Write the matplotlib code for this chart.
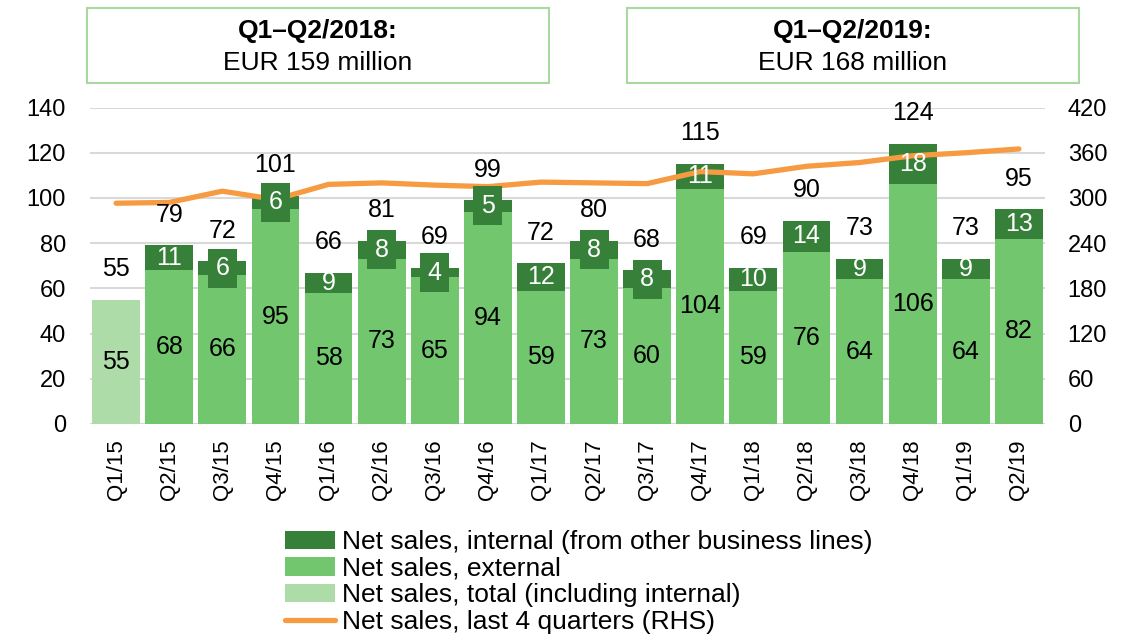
import numpy as np
import matplotlib
matplotlib.use("Agg")
import matplotlib.pyplot as plt
from matplotlib.patches import Rectangle

plt.rcParams['font.family'] = ['Liberation Sans', 'DejaVu Sans']

quarters = ["Q1/15", "Q2/15", "Q3/15", "Q4/15", "Q1/16", "Q2/16", "Q3/16", "Q4/16", "Q1/17",
            "Q2/17", "Q3/17", "Q4/17", "Q1/18", "Q2/18", "Q3/18", "Q4/18", "Q1/19", "Q2/19"]
# first quarter only has the total (light bar)
external = [None, 68, 66, 95, 58, 73, 65, 94, 59, 73, 60, 104, 59, 76, 64, 106, 64, 82]
internal = [None, 11, 6, 6, 9, 8, 4, 5, 12, 8, 8, 11, 10, 14, 9, 18, 9, 13]
totals = [55, 79, 72, 101, 66, 81, 69, 99, 72, 80, 68, 115, 69, 90, 73, 124, 73, 95]
last4q = [293, 294, 309, 298, 318, 320, 317, 315, 321, 320, 319, 335, 332, 342, 347, 356, 360, 365]

box_titles = ["Q1\u2013Q2/2018:", "Q1\u2013Q2/2019:"]
box_values = ["EUR 159 million", "EUR 168 million"]

c_int = '#37803A'
c_ext = '#72C66E'
c_tot = '#AEDCA8'
c_line = '#F79B42'
c_grid = '#D9D9D9'

fig = plt.figure(figsize=(11.35, 6.37), dpi=100)
ax = fig.add_axes([0.0789, 0.3344, 0.8422, 0.4968])
ax2 = ax.twinx()

x = np.arange(len(quarters))
ext = np.array([np.nan if v is None else v for v in external], dtype=float)
intl = np.array([np.nan if v is None else v for v in internal], dtype=float)
w = 0.9

b_tot = ax.bar(x[0], totals[0], w, color=c_tot, zorder=2)
b_ext = ax.bar(x[1:], ext[1:], w, color=c_ext, zorder=2)
b_int = ax.bar(x[1:], intl[1:], w, bottom=ext[1:], color=c_int, zorder=2)

ln, = ax2.plot(x, last4q, color=c_line, lw=3.8, solid_capstyle='round', zorder=2)

ax.set_xlim(-0.5, len(quarters) - 0.5)
ax.set_ylim(0, 140)
ax.set_yticks(range(0, 141, 20))
ax2.set_ylim(0, 420)
ax2.set_yticks(range(0, 421, 60))
ax.grid(axis='y', color=c_grid, lw=1.5)
ax.set_axisbelow(True)
for a in (ax, ax2):
    for s in a.spines.values():
        s.set_visible(False)
ax.tick_params(axis='y', length=0, pad=17, labelsize=17)
ax2.tick_params(axis='y', length=0, pad=16, labelsize=17)
ax.set_xticks(x)
ax.set_xticklabels(quarters, rotation=90, fontsize=16)
ax.tick_params(axis='x', length=0, pad=11)

fs = 18
for i in x:
    if i == 0:
        ax2.text(i, totals[0] / 2, str(totals[0]), transform=ax.transData,
                 ha='center', va='center', fontsize=fs, zorder=5)
        top = totals[0]
    else:
        e, n = ext[i], intl[i]
        ax2.text(i, e / 2, str(int(e)), transform=ax.transData,
                 ha='center', va='center', fontsize=fs, zorder=5)
        kw = {}
        if n < 9:
            kw['bbox'] = dict(boxstyle='square,pad=0.3', fc=c_int, ec='none')
        ax2.text(i, e + n / 2, str(int(n)), transform=ax.transData, color='white',
                 ha='center', va='center', fontsize=fs, zorder=5, **kw)
        top = e + n
    ax2.annotate(str(totals[i]), xy=(i, top), xycoords=ax.transData,
                 xytext=(0, 22), textcoords='offset points',
                 ha='center', va='center', fontsize=fs, zorder=5)

# summary boxes on top
for (x0, x1), t, v in zip([(87, 549), (627, 1079)], box_titles, box_values):
    fig.patches.append(Rectangle((x0 / 1135, 1 - 83 / 637), (x1 - x0) / 1135, 75 / 637,
                                 transform=fig.transFigure, fill=False,
                                 ec='#A9D9A0', lw=1.5))
    xc = (x0 + x1) / 2 / 1135
    fig.text(xc, 1 - 31 / 637, t, ha='center', va='center', fontsize=19, fontweight='bold')
    fig.text(xc, 1 - 63 / 637, v, ha='center', va='center', fontsize=19)

handles = [b_int, b_ext, b_tot, ln]
labels = ["Net sales, internal (from other business lines)", "Net sales, external",
          "Net sales, total (including internal)", "Net sales, last 4 quarters (RHS)"]
fig.legend(handles, labels, loc='upper center', bbox_to_anchor=(0.51, 0.168),
           frameon=False, fontsize=19, handlelength=1.9, handletextpad=0.25,
           labelspacing=0.1, borderaxespad=0, borderpad=0)

fig.savefig("out.png", dpi=100)
